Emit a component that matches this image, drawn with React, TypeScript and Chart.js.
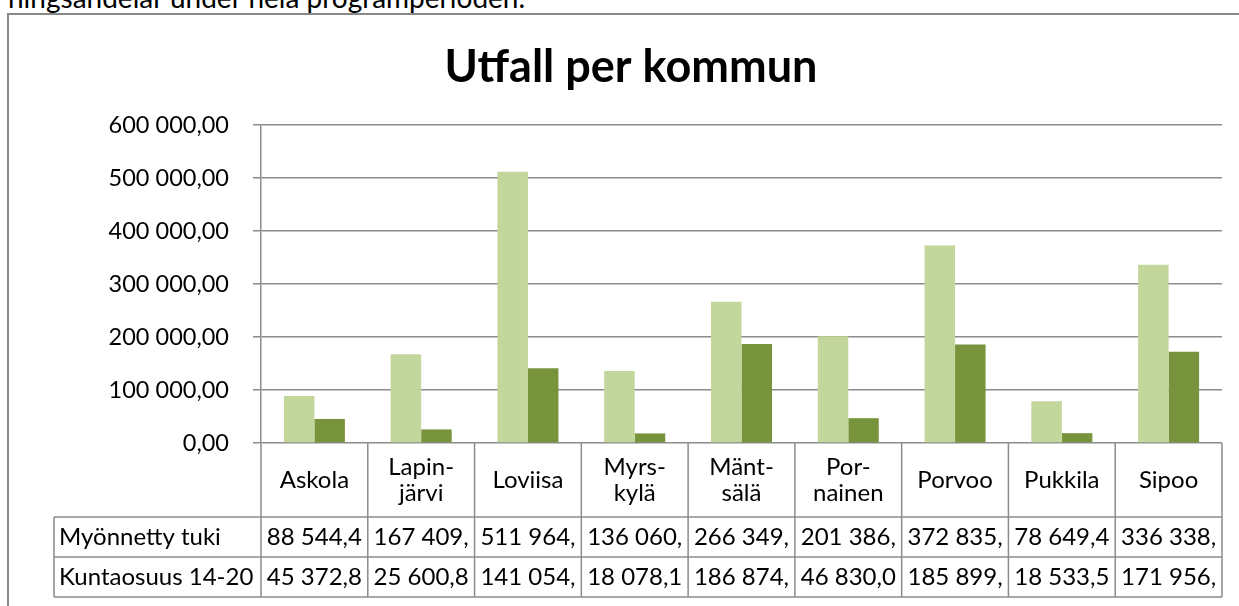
import React, { useEffect, useRef } from "react";
import { Chart, registerables } from "chart.js";

Chart.register(...registerables);

const TITLE = "Utfall per kommun";
const TOP_TEXT = "ningsandelar under hela programperioden.";
const categories: string[][] = [
  ["Askola"],
  ["Lapin-", "järvi"],
  ["Loviisa"],
  ["Myrs-", "kylä"],
  ["Mänt-", "sälä"],
  ["Por-", "nainen"],
  ["Porvoo"],
  ["Pukkila"],
  ["Sipoo"],
];
const seriesNames = ["Myönnetty tuki", "Kuntaosuus 14-20"];
const myonnetty = [88544.4, 167409, 511964, 136060, 266349, 201386, 372835, 78649.4, 336338];
const kuntaosuus = [45372.8, 25600.8, 141054, 18078.1, 186874, 46830.0, 185899, 18533.5, 171956];
const colors = ["#c3d69b", "#77933c"];
const yMax = 600000;
const yStep = 100000;

const FONT = "Lato, 'Liberation Sans', sans-serif";
const GRID = "#8c8c8c";

function fmt(v: number): string {
  const neg = v < 0;
  const s = Math.abs(v).toFixed(2);
  const [ip, dp] = s.split(".");
  const withSep = ip.replace(/\B(?=(\d{3})+(?!\d))/g, " ");
  return (neg ? "-" : "") + withSep + "," + dp;
}
const cell = (v: number) => fmt(v).slice(0, 8);

const tablePlugin = {
  id: "excelTable",
  afterDraw(chart: any) {
    const ctx = chart.ctx as CanvasRenderingContext2D;
    const area = chart.chartArea;
    const xs = chart.scales.x;
    const n = categories.length;
    const cw = (area.right - area.left) / n;
    const rowLabelTop = area.bottom;
    const row1Top = area.bottom + 74;
    const row2Top = row1Top + 40;
    const tableBottom = row2Top + 40;
    const leftCol = 54;
    ctx.save();
    // frame
    ctx.strokeStyle = "#888888";
    ctx.lineWidth = 2;
    ctx.beginPath();
    ctx.moveTo(8, 1300);
    ctx.lineTo(8, 14);
    ctx.lineTo(1400, 14);
    ctx.stroke();
    // title
    ctx.fillStyle = "#000";
    ctx.font = `bold 45px ${FONT}`;
    ctx.textAlign = "center";
    ctx.textBaseline = "middle";
    ctx.fillText(TITLE, 631, 67);

    // table lines
    ctx.strokeStyle = GRID;
    ctx.lineWidth = 1.5;
    ctx.beginPath();
    for (const y of [row1Top, row2Top, tableBottom]) {
      ctx.moveTo(leftCol, y);
      ctx.lineTo(area.right, y);
    }
    ctx.moveTo(leftCol, row1Top);
    ctx.lineTo(leftCol, tableBottom);
    ctx.moveTo(area.left, area.bottom);
    ctx.lineTo(area.left, tableBottom);
    for (let i = 0; i < n; i++) {
      const xr = xs.getPixelForValue(i) + cw / 2;
      ctx.moveTo(xr, rowLabelTop);
      ctx.lineTo(xr, tableBottom);
    }
    ctx.stroke();

    // texts
    ctx.fillStyle = "#000";
    ctx.font = `24px ${FONT}`;
    ctx.textBaseline = "middle";
    ctx.textAlign = "center";
    const labelMid = (rowLabelTop + row1Top) / 2;
    categories.forEach((lines, i) => {
      const cx = xs.getPixelForValue(i);
      const lh = 26;
      lines.forEach((l, j) => {
        const y = labelMid + (j - (lines.length - 1) / 2) * lh;
        ctx.fillText(l, cx, y);
      });
    });
    const rows = [myonnetty, kuntaosuus];
    const tops = [row1Top, row2Top];
    rows.forEach((vals, r) => {
      const y = tops[r] + 20;
      ctx.textAlign = "left";
      ctx.fillText(seriesNames[r], leftCol + 5, y);
      ctx.textAlign = "center";
      vals.forEach((v, i) => {
        ctx.fillText(cell(v), xs.getPixelForValue(i), y);
      });
    });
    ctx.restore();
  },
};

export default function App() {
  const ref = useRef<HTMLCanvasElement | null>(null);
  useEffect(() => {
    if (!ref.current) return;
    const chart = new Chart(ref.current, {
      type: "bar",
      data: {
        labels: categories.map((c) => c.join("")),
        datasets: [
          { label: seriesNames[0], data: myonnetty, backgroundColor: colors[0] },
          { label: seriesNames[1], data: kuntaosuus, backgroundColor: colors[1] },
        ],
      },
      options: {
        responsive: false,
        animation: false,
        devicePixelRatio: 1,
        layout: { padding: { left: 0, top: 125, right: 17, bottom: 0 } },
        datasets: { bar: { categoryPercentage: 2 / 3.5, barPercentage: 1 } },
        plugins: { legend: { display: false }, title: { display: false }, tooltip: { enabled: false } },
        scales: {
          x: {
            grid: { display: false },
            border: { display: false },
            ticks: { display: false },
            afterFit: (s: any) => {
              s.height = 163;
            },
          },
          y: {
            min: 0,
            max: yMax,
            ticks: {
              stepSize: yStep,
              padding: 24,
              color: "#000",
              font: { family: FONT, size: 23.5 },
              callback: (v: any) => fmt(Number(v)),
            },
            grid: { color: GRID, lineWidth: 1.5, tickLength: 8, drawTicks: true },
            border: { display: true, color: GRID, width: 1.5 },
            afterFit: (s: any) => {
              s.width = 261;
            },
          },
        },
      },
      plugins: [tablePlugin],
    } as any);
    return () => chart.destroy();
  }, []);
  return (
    <div style={{ position: "absolute", left: 0, top: 0, width: 1239, height: 606, overflow: "hidden", background: "#fff" }}>
      <div
        style={{
          position: "absolute",
          left: 8,
          top: -15,
          fontFamily: FONT,
          fontSize: 28,
          lineHeight: "24px",
          whiteSpace: "nowrap",
          color: "#000",
        }}
      >
        {TOP_TEXT}
      </div>
      <canvas ref={ref} width={1239} height={606} style={{ position: "absolute", left: 0, top: 0 }} />
    </div>
  );
}
